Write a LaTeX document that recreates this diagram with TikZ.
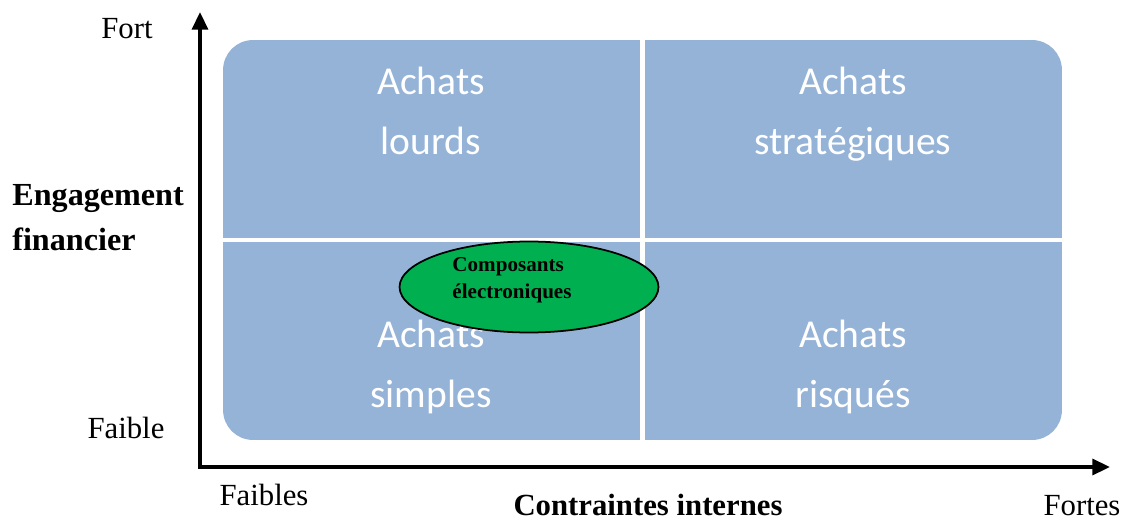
\documentclass[tikz,border=0pt]{standalone}
\usepackage{fontspec}
\setmainfont{Liberation Serif}
\newfontfamily\calib{Carlito}
\usetikzlibrary{shapes.geometric,arrows.meta}
\definecolor{zonebleu}{HTML}{95B3D7}
\definecolor{vertcomp}{HTML}{00B050}
\tikzset{
  quad/.style={text=white,align=center,text depth=6pt,font=\calib\fontsize{22.5}{34}\selectfont},
  axe/.style={line width=2pt,-{Triangle[length=10pt,width=9pt]}},
  lbl/.style={font=\fontsize{17.5}{20}\selectfont}
}
\begin{document}
\begin{tikzpicture}[x=0.02cm,y=-0.02cm]
                \useasboundingbox (0,0) rectangle (1125,520);
                %zone de fond et separations
                \node[fill=zonebleu,rounded corners=17pt,minimum width=16.78cm,minimum height=8cm,inner sep=0pt] (zone) at (642.5,240) {};
                \draw[white,line width=2.8pt] (zone.north) -- (zone.south);
                \draw[white,line width=2.3pt] (zone.west) -- (zone.east);

                %4 quadrants
                \node[quad] (lourds) at (431,116) {Achats\\lourds};
                \node[quad] (strat) at (853,116) {Achats\\stratégiques};
                \node[quad] (simples) at (431,369) {Achats\\simples};
                \node[quad] (risques) at (853,369) {Achats\\risqués};

                %ellipse
                \node[draw,ellipse,fill=vertcomp,line width=1pt,minimum width=5.18cm,minimum height=1.82cm] (elli) at (529,287) {};
                \node[align=left,font=\bfseries\fontsize{12}{15.4}\selectfont] (comp) at (512,280) {Composants\\électroniques};

                %axes
                \coordinate (o) at (200,467);
                \coordinate (haut) at (200,12);
                \coordinate (droite) at (1110,467);
                \draw[axe] ([yshift=-1pt]o) -- (haut);
                \draw[axe] ([xshift=-1pt]o) -- (droite);

                %etiquettes
                \node[lbl] (fort) at (127,29) {Fort};
                \node[lbl] (faible) at (126,428) {Faible};
                \node[lbl,font=\bfseries\fontsize{18.3}{25.6}\selectfont,align=left,anchor=west,inner sep=0pt] (engag) at (12,218) {Engagement\\financier};
                \node[lbl,inner sep=1pt] (faibles) at (264,495) {Faibles};
                \node[lbl,inner sep=1pt,font=\bfseries\fontsize{17.5}{20}\selectfont] (contr) at (648,505) {Contraintes internes};
                \node[lbl,inner sep=1pt] (fortes) at (1082,506) {Fortes};

            \end{tikzpicture}
\end{document}
